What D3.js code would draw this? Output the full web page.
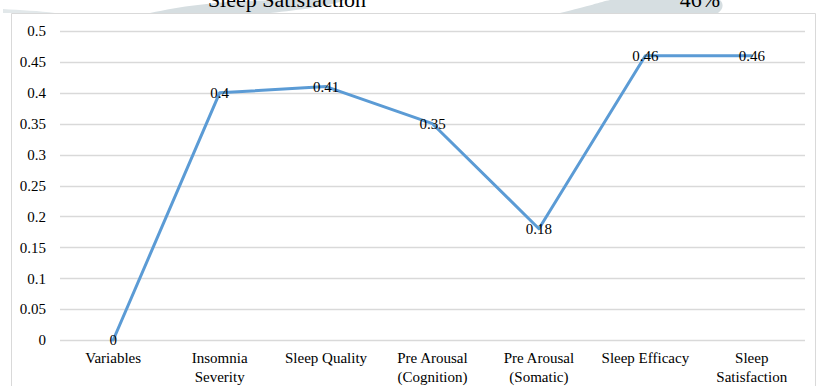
<!DOCTYPE html>
<html>
<head>
<meta charset="utf-8">
<script src="https://cdn.jsdelivr.net/npm/d3@7"></script>
<style>
  html, body { margin: 0; padding: 0; background: #fff; }
  svg { display: block; }
  text { font-family: "Liberation Serif", "Times New Roman", serif; fill: #000; }
</style>
</head>
<body>
<script>
// Chart data
const categories = [
  ["Variables"],
  ["Insomnia", "Severity"],
  ["Sleep Quality"],
  ["Pre Arousal", "(Cognition)"],
  ["Pre Arousal", "(Somatic)"],
  ["Sleep Efficacy"],
  ["Sleep", "Satisfaction"]
];
const values = [0, 0.4, 0.41, 0.35, 0.18, 0.46, 0.46];
const valueLabels = ["0", "0.4", "0.41", "0.35", "0.18", "0.46", "0.46"];
const yTicks = [0, 0.05, 0.1, 0.15, 0.2, 0.25, 0.3, 0.35, 0.4, 0.45, 0.5];
const headerTexts = ["Sleep Satisfaction", "46%"];

const W = 817, H = 386;
const svg = d3.select("body").append("svg").attr("width", W).attr("height", H);

// Faint decorative shapes behind the header row
svg.append("path")
  .attr("d", "M150,13 C190,4 230,0 300,0 L345,0 C330,6 300,10 270,13 Z")
  .attr("fill", "#d6dee1");
svg.append("path")
  .attr("d", "M560,13 C590,6 600,2 610,0 L720,0 C725,5 722,10 718,13 Z")
  .attr("fill", "#d6dee1");
svg.append("path")
  .attr("d", "M3,13 L3,9 C20,10 40,11 55,13 Z")
  .attr("fill", "#e2e8ea");

// Header row text, running off the top edge
svg.append("text").attr("x", 287).attr("y", 7).attr("text-anchor", "middle")
  .style("font-size", "22px").text(headerTexts[0]);
svg.append("text").attr("x", 700).attr("y", 7).attr("text-anchor", "middle")
  .style("font-size", "22px").text(headerTexts[1]);

// Chart frame
svg.append("path")
  .attr("d", "M11.5,390 L11.5,13.5 L815.5,13.5 L815.5,390")
  .attr("fill", "none").attr("stroke", "#d9d9d9").attr("stroke-width", 1);

const plot = { left: 60, right: 805, top: 31, bottom: 340 };

const x = d3.scaleBand()
  .domain(d3.range(categories.length))
  .range([plot.left, plot.right])
  .paddingInner(0).paddingOuter(0);
const y = d3.scaleLinear().domain([0, 0.5]).range([plot.bottom, plot.top]);

// Gridlines
svg.append("g").selectAll("line").data(yTicks).join("line")
  .attr("x1", plot.left).attr("x2", plot.right)
  .attr("y1", d => Math.round(y(d)) + 0.5).attr("y2", d => Math.round(y(d)) + 0.5)
  .attr("stroke", "#d9d9d9").attr("stroke-width", 1.3);

// Y axis labels
const yAxis = d3.axisLeft(y).tickValues(yTicks).tickSize(0).tickPadding(0)
  .tickFormat(d => d3.format("")(+d.toFixed(2)));
const gy = svg.append("g").attr("transform", `translate(${plot.left - 14},0)`).call(yAxis);
gy.select(".domain").remove();
gy.selectAll("text").style("font-size", "15px").style("font-family", "Liberation Serif, serif").attr("fill", "#000");

// X axis category labels
const xg = svg.append("g");
categories.forEach((lines, i) => {
  const t = xg.append("text")
    .attr("x", x(i) + x.bandwidth() / 2)
    .attr("y", 363)
    .attr("text-anchor", "middle")
    .style("font-size", "15px");
  lines.forEach((ln, j) => {
    t.append("tspan").attr("x", x(i) + x.bandwidth() / 2).attr("dy", j === 0 ? 0 : 19).text(ln);
  });
});

// Line series
const cx = i => x(i) + x.bandwidth() / 2;
const line = d3.line().x((d, i) => cx(i)).y(d => y(d));
svg.append("path").datum(values)
  .attr("d", line)
  .attr("fill", "none")
  .attr("stroke", "#5b9bd5")
  .attr("stroke-width", 3)
  .attr("stroke-linejoin", "round")
  .attr("stroke-linecap", "round");

// Data labels centred on each point
svg.append("g").selectAll("text").data(values).join("text")
  .attr("x", (d, i) => cx(i))
  .attr("y", d => y(d) + 5)
  .attr("text-anchor", "middle")
  .style("font-size", "15px")
  .text((d, i) => valueLabels[i]);
</script>
</body>
</html>
